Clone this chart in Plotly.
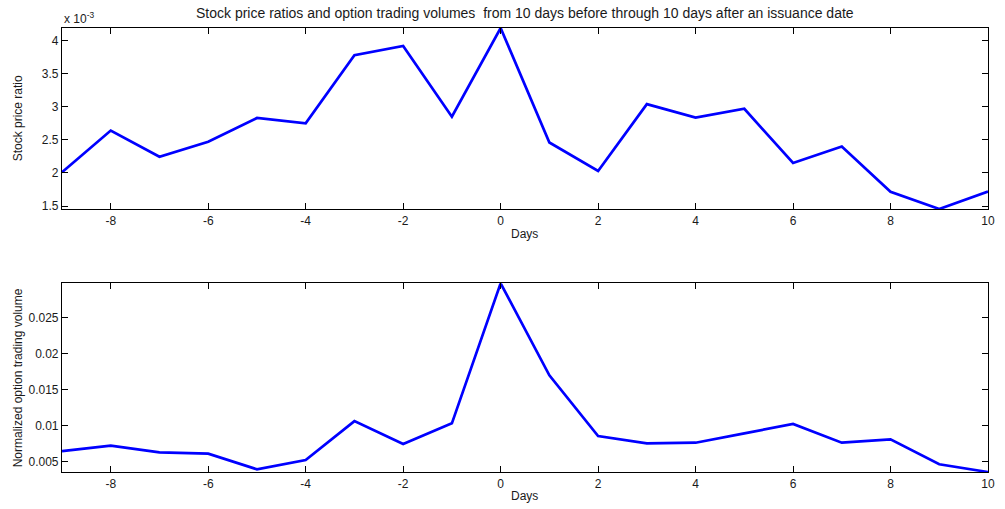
import plotly.graph_objects as go

days = list(range(-9, 11))
stock_ratio = [2.01e-3, 2.64e-3, 2.245e-3, 2.47e-3, 2.83e-3, 2.75e-3, 3.78e-3, 3.92e-3, 2.85e-3, 4.19e-3,
               2.46e-3, 2.03e-3, 3.04e-3, 2.835e-3, 2.97e-3, 2.15e-3, 2.40e-3, 1.716e-3, 1.455e-3, 1.72e-3]
option_volume = [0.00643, 0.00717, 0.00625, 0.00606, 0.00389, 0.00518, 0.0106, 0.00741, 0.01029, 0.0298,
                 0.01698, 0.00852, 0.00751, 0.00759, 0.0089, 0.0102, 0.00759, 0.00806, 0.00458, 0.00351]

x_ticks = [-8, -6, -4, -2, 0, 2, 4, 6, 8, 10]
x_ticktext = ["-8", "-6", "-4", "-2", "0", "2", "4", "6", "8", "10"]
y1_ticks = [1.5e-3, 2e-3, 2.5e-3, 3e-3, 3.5e-3, 4e-3]
y1_ticktext = ["1.5", "2", "2.5", "3", "3.5", "4"]
y2_ticks = [0.005, 0.01, 0.015, 0.02, 0.025]
y2_ticktext = ["0.005", "0.01", "0.015", "0.02", "0.025"]

title = "Stock price ratios and option trading volumes  from 10 days before through 10 days after an issuance date"

FONT = "Liberation Sans, Arial, sans-serif"
TXT = "#1a1a1a"
fig = go.Figure()
fig.add_trace(go.Scatter(x=days, y=stock_ratio, mode="lines", line=dict(color="#0000ff", width=2.7),
                         xaxis="x", yaxis="y", showlegend=False))
fig.add_trace(go.Scatter(x=days, y=option_volume, mode="lines", line=dict(color="#0000ff", width=2.7),
                         xaxis="x2", yaxis="y2", showlegend=False))

axis_common = dict(showline=True, linecolor="black", linewidth=1.2, mirror="ticks", ticks="inside",
                   ticklen=6, tickcolor="black", tickwidth=1, showgrid=False, zeroline=False,
                   tickfont=dict(family=FONT, size=12, color=TXT))

W, H = 1005, 509
ml, mr, mt, mb = 62, 10, 28, 37
ph = H - mt - mb
top_bottom = (472 - 209) / ph
bot_top = (472 - 283.3) / ph

fig.update_layout(
    width=W, height=H, margin=dict(l=ml, r=mr, t=mt, b=mb),
    plot_bgcolor="white", paper_bgcolor="white",
    xaxis=dict(domain=[0, 1], range=[-9, 10], tickvals=x_ticks, ticktext=x_ticktext, anchor="y", **axis_common),
    yaxis=dict(domain=[top_bottom, 1], range=[min(stock_ratio), max(stock_ratio)], tickvals=y1_ticks,
               ticktext=y1_ticktext, anchor="x", **axis_common),
    xaxis2=dict(domain=[0, 1], range=[-9, 10], tickvals=x_ticks, ticktext=x_ticktext, anchor="y2", **axis_common),
    yaxis2=dict(domain=[0, bot_top], range=[min(option_volume), max(option_volume)], tickvals=y2_ticks,
                ticktext=y2_ticktext, anchor="x2", **axis_common),
    font=dict(family=FONT, size=12, color=TXT),
)

def px_x(x):
    return (x - ml) / (W - ml - mr)

def px_y(y):
    return (H - mb - y) / ph

ann = [
    dict(text=title, x=px_x(528), y=px_y(13), font=dict(size=14, color=TXT)),
    dict(text="x 10<sup>-3</sup>", x=px_x(62), y=px_y(18), xanchor="left", font=dict(size=12, color=TXT)),
    dict(text="Stock price ratio", x=px_x(18), y=px_y(118), textangle=-90, font=dict(size=12, color=TXT)),
    dict(text="Normalized option trading volume", x=px_x(18), y=px_y(378), textangle=-90,
         font=dict(size=12, color=TXT)),
    dict(text="Days", x=px_x(528), y=px_y(234), font=dict(size=12, color=TXT)),
    dict(text="Days", x=px_x(528), y=px_y(496), font=dict(size=12, color=TXT)),
]
for a in ann:
    a.setdefault("xanchor", "center")
    a.update(xref="paper", yref="paper", yanchor="middle", showarrow=False)
    fig.add_annotation(**a)

fig.write_html("out.html")
